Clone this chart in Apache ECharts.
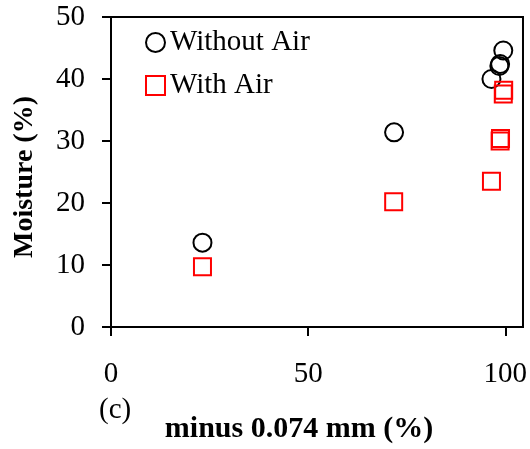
<!DOCTYPE html>
<html>
<head>
<meta charset="utf-8">
<script src="https://cdn.jsdelivr.net/npm/echarts@6/dist/echarts.min.js"></script>
<style>html,body{margin:0;padding:0;background:#fff;}#c{width:530px;height:449px;}</style>
</head>
<body>
<div id="c"></div>
<script>
const withoutAirX = [23.2, 71.8, 99.5, 98.7, 98.5, 96.5];
const withoutAirY = [13.6, 31.4, 44.6, 42.4, 42.1, 40.0];
const withAirX = [23.2, 71.7, 96.5, 98.7, 98.8, 99.5, 99.6];
const withAirY = [9.7, 20.2, 23.5, 30.0, 30.4, 37.6, 38.2];
const xTicks = [0, 50, 100];
const yTicks = [0, 10, 20, 30, 40, 50];

const font = "'Liberation Serif', 'Times New Roman', serif";
const chart = echarts.init(document.getElementById('c'));
chart.setOption({
  animation: false,
  grid: {left: 111, top: 17, right: 4.5, bottom: 120.5, show: true, borderColor: '#000', borderWidth: 2, backgroundColor: 'transparent'},
  legend: {
    orient: 'vertical', left: 140, top: 23, itemGap: 14, itemWidth: 19, itemHeight: 19, itemTextGap: 8,
    textStyle: {fontFamily: font, fontSize: 29, color: '#000'},
    data: ['Without Air', 'With Air']
  },
  xAxis: {
    type: 'value', min: 0, max: 104.5, interval: 50,
    name: 'minus 0.074 mm (%)', nameLocation: 'middle', nameGap: 87,
    nameTextStyle: {fontFamily: font, fontSize: 30, fontWeight: 'bold', color: '#000', padding: [0, 36, 0, 0]},
    axisLine: {lineStyle: {color: '#000', width: 2}},
    axisTick: {show: true, inside: false, length: 9, lineStyle: {color: '#000', width: 2}, customValues: xTicks},
    axisLabel: {fontFamily: font, fontSize: 29, color: '#000', margin: 33, customValues: xTicks},
    splitLine: {show: false}
  },
  yAxis: {
    type: 'value', min: 0, max: 50, interval: 10,
    name: 'Moisture (%)', nameLocation: 'middle', nameGap: 72, nameRotate: 90,
    nameTextStyle: {fontFamily: font, fontSize: 28, fontWeight: 'bold', color: '#000', padding: [0, 10, 0, 0]},
    axisLine: {lineStyle: {color: '#000', width: 2}},
    axisTick: {show: true, inside: false, length: 9, lineStyle: {color: '#000', width: 2}},
    axisLabel: {fontFamily: font, fontSize: 29, color: '#000', margin: 26},
    splitLine: {show: false}
  },
  graphic: [{type: 'text', left: 99, top: 396, style: {text: '(c)', font: "29px 'Liberation Serif'", fill: '#000'}}],
  series: [
    {name: 'Without Air', type: 'scatter', symbol: 'circle', symbolSize: 18,
     itemStyle: {color: 'rgba(255,255,255,0)', borderColor: '#000', borderWidth: 2, opacity: 1},
     data: withoutAirX.map((x, i) => [x, withoutAirY[i]])},
    {name: 'With Air', type: 'scatter', symbol: 'rect', symbolSize: 17,
     itemStyle: {color: 'rgba(255,255,255,0)', borderColor: '#ff0000', borderWidth: 2, opacity: 1},
     data: withAirX.map((x, i) => [x, withAirY[i]])}
  ]
});
</script>
</body>
</html>
